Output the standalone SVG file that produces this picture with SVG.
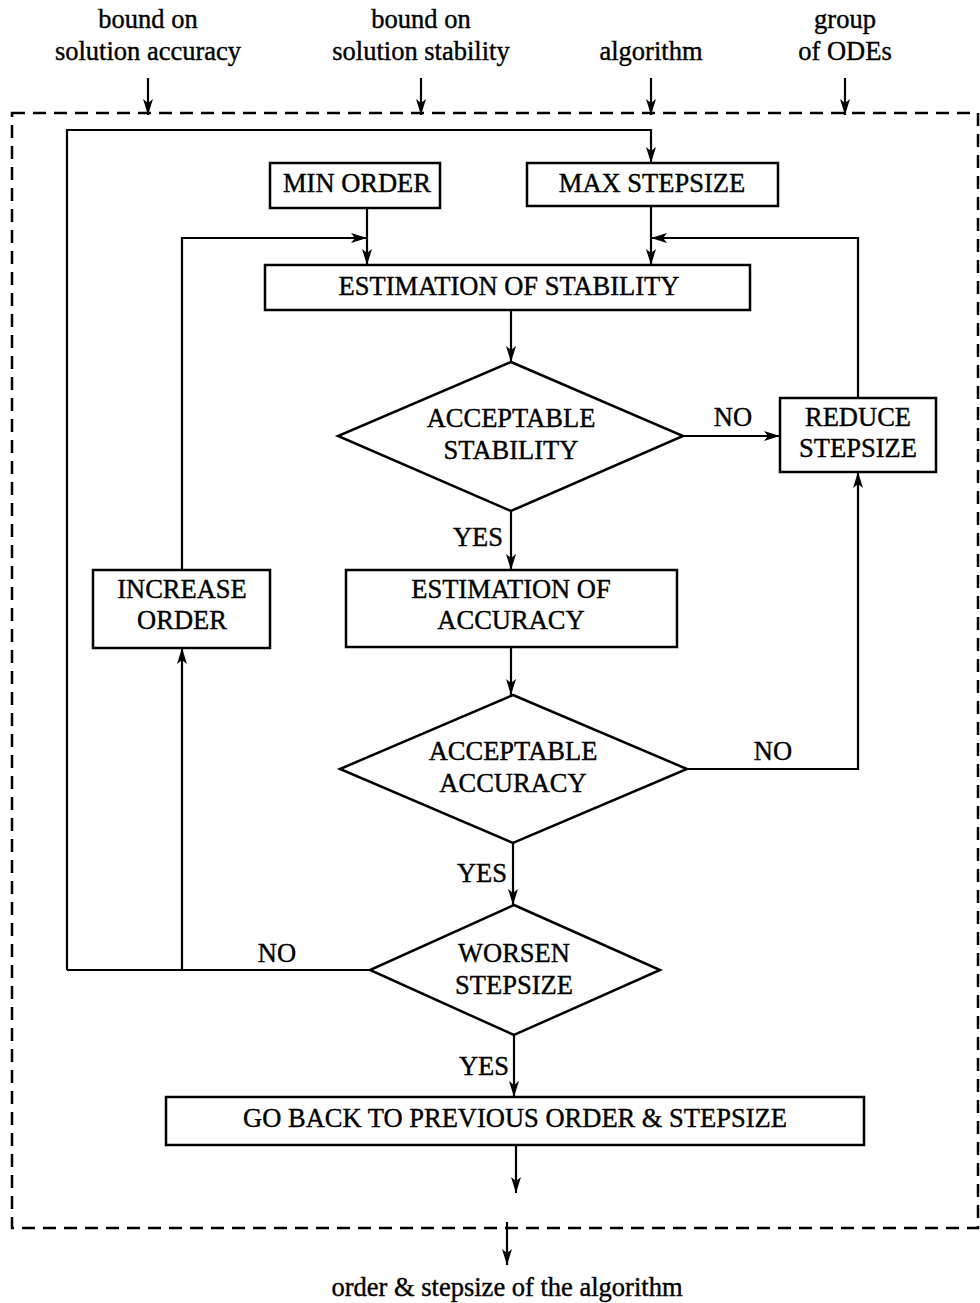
<svg xmlns="http://www.w3.org/2000/svg" width="980" height="1303" viewBox="0 0 980 1303" font-family="'Liberation Serif', 'DejaVu Serif', 'Times New Roman', serif">
<style>
text{font-family:'Liberation Serif','DejaVu Serif','Times New Roman',serif;font-size:26.5px;fill:#000;stroke:#000;stroke-width:0.4;text-anchor:middle}
.box{fill:#fff;stroke:#000;stroke-width:2.5}
.ln{fill:none;stroke:#000;stroke-width:2.2}
.arr{marker-end:url(#ah)}
.dash{fill:none;stroke:#000;stroke-width:2.5;stroke-dasharray:13 8}
</style>
<defs>
<marker id="ah" viewBox="0 0 16 10" refX="16" refY="5" markerWidth="16" markerHeight="10" markerUnits="userSpaceOnUse" orient="auto">
<path d="M0,0 L16,5 L0,10 L4,5 z" fill="#000"/>
</marker>
</defs>
<rect id="boundary" x="12" y="113" width="966" height="1115" class="dash"/>
<g id="inputs">
<text x="148" y="28">bound on</text><text x="148" y="60">solution accuracy</text>
<text x="421" y="28">bound on</text><text x="421" y="60">solution stability</text>
<text x="651" y="60">algorithm</text>
<text x="845" y="28">group</text><text x="845" y="60">of ODEs</text>
</g>
<g id="output"><text x="507" y="1296">order &amp; stepsize of the algorithm</text></g>
<g id="connectors">
<line class="ln arr" x1="148" y1="78" x2="148" y2="115"/>
<line class="ln arr" x1="421" y1="78" x2="421" y2="115"/>
<line class="ln arr" x1="651" y1="78" x2="651" y2="115"/>
<line class="ln arr" x1="845" y1="78" x2="845" y2="115"/>
<polyline class="ln arr" points="67,970 67,130 651,130 651,163"/>
<line class="ln arr" x1="367" y1="208" x2="367" y2="265"/>
<line class="ln arr" x1="651" y1="206" x2="651" y2="265"/>
<polyline class="ln arr" points="182,570 182,238 367,238"/>
<polyline class="ln arr" points="858,398 858,238 651,238"/>
<line class="ln arr" x1="511" y1="310" x2="511" y2="362"/>
<line class="ln arr" x1="683" y1="436" x2="780" y2="436"/>
<line class="ln arr" x1="511" y1="511" x2="511" y2="570"/>
<line class="ln arr" x1="511" y1="647" x2="511" y2="695"/>
<polyline class="ln arr" points="687,769 858,769 858,472"/>
<line class="ln arr" x1="513" y1="843" x2="513" y2="905"/>
<line class="ln" x1="370" y1="970" x2="67" y2="970"/>
<line class="ln arr" x1="182" y1="970" x2="182" y2="648"/>
<line class="ln arr" x1="514" y1="1035" x2="514" y2="1097"/>
<line class="ln arr" x1="516" y1="1145" x2="516" y2="1193"/>
<line class="ln arr" x1="507" y1="1222" x2="507" y2="1265"/>
<text x="733" y="426">NO</text>
<text x="478" y="546">YES</text>
<text x="773" y="760">NO</text>
<text x="482" y="882">YES</text>
<text x="277" y="962">NO</text>
<text x="484" y="1075">YES</text>
</g>
<g id="min-order"><rect class="box" x="270" y="163" width="170" height="45"/><text x="357" y="192">MIN ORDER</text></g>
<g id="max-stepsize"><rect class="box" x="527" y="163" width="251" height="43"/><text x="652" y="192">MAX STEPSIZE</text></g>
<g id="est-stability"><rect class="box" x="265" y="265" width="485" height="45"/><text x="509" y="295">ESTIMATION OF STABILITY</text></g>
<g id="acc-stability"><polygon class="box" points="511,362 683,436 511,511 338,436"/><text x="511" y="427">ACCEPTABLE</text><text x="511" y="459">STABILITY</text></g>
<g id="reduce-stepsize"><rect class="box" x="780" y="398" width="156" height="74"/><text x="858" y="426">REDUCE</text><text x="858" y="457">STEPSIZE</text></g>
<g id="est-accuracy"><rect class="box" x="346" y="570" width="331" height="77"/><text x="511" y="598">ESTIMATION OF</text><text x="511" y="629">ACCURACY</text></g>
<g id="increase-order"><rect class="box" x="93" y="570" width="177" height="78"/><text x="182" y="598">INCREASE</text><text x="182" y="629">ORDER</text></g>
<g id="acc-accuracy"><polygon class="box" points="513,695 687,769 513,843 340,769"/><text x="513" y="760">ACCEPTABLE</text><text x="513" y="792">ACCURACY</text></g>
<g id="worsen-stepsize"><polygon class="box" points="514,905 660,970 514,1035 370,970"/><text x="514" y="962">WORSEN</text><text x="514" y="994">STEPSIZE</text></g>
<g id="go-back"><rect class="box" x="166" y="1097" width="698" height="48"/><text x="515" y="1127">GO BACK TO PREVIOUS ORDER &amp; STEPSIZE</text></g>
</svg>
